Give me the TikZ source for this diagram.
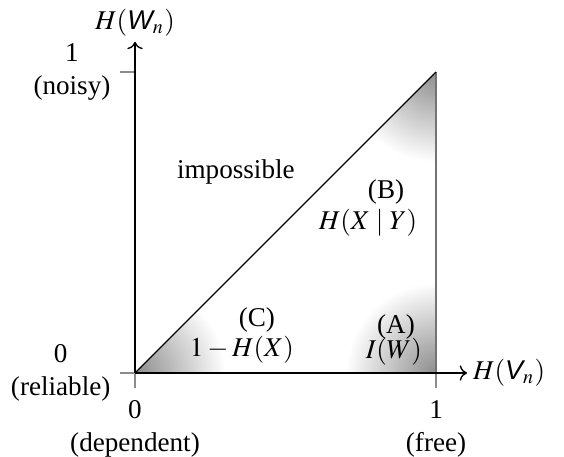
\documentclass[tikz,border=0pt]{standalone}
\usepackage{amsmath}
\usepackage{mathptmx}
\usepackage{fontspec}
\setmainfont{Liberation Serif}
\setsansfont{Liberation Sans}
\usetikzlibrary{arrows.meta,positioning}
\newcommand{\sfv}[1]{\text{\sffamily\itshape #1}}

\begin{document}
\begin{tikzpicture}[x=3.9cm,y=3.9cm, every node/.style={font=\normalsize,align=center},
    axisline/.style={black, line width=0.5pt},
    tickline/.style={black!45, line width=0.5pt},
    corner/.style={inner color=black!45, outer color=white}]
  \useasboundingbox (-0.4485,-0.279) rectangle (1.425,1.239);

  \coordinate (O) at (0,0);
  \coordinate (Q) at (1,0);
  \coordinate (P) at (1,1);
  \coordinate (xend) at (1.103,0);
  \coordinate (yend) at (0,1.10);

  % shaded corners of the feasible triangle
  \begin{scope}
    \clip (O) -- (P) -- (Q) -- cycle;
    \shade[corner] (O) circle (0.3);
    \shade[corner] (P) circle (0.3);
    \shade[corner] (Q) circle (0.3);
  \end{scope}

  % ticks
  \foreach \t in {0,1} {
    \draw[tickline] (\t,0) -- (\t,-0.05);
    \draw[tickline] (0,\t) -- (-0.05,\t);
  }

  \draw[black!55, line width=1pt] (Q) -- (P);
  \draw[black, line width=0.4pt] (O) -- (P);
  \draw[axisline, ->] (O) -- (xend);
  \draw[axisline, ->] (O) -- (yend);

  \node[anchor=west, inner sep=2pt] (xlab) at (xend) {$H(\sfv{V}_n)$};
  \node[anchor=south, inner sep=2pt] (ylab) at (yend) {$H(\sfv{W}_n)$};

  \node[anchor=north] (x0) at (0,-0.06) {0\\(dependent)};
  \node[anchor=north] (x1) at (1,-0.06) {1\\(free)};
  \node[anchor=east] (y0) at (-0.05,0) {0\\(reliable)};
  \node[anchor=east] (y1) at (-0.05,1) {1\\(noisy)};

  \node (imp) at (0.335,0.668) {impossible};
  \node (B) at (0.834,0.601) {(B)};
  \node (Bf) at (0.774,0.498) {$H(X \mid Y)$};
  \node (C) at (0.405,0.176) {(C)};
  \node (Cf) at (0.355,0.076) {$1 - H(X)$};
  \node (A) at (0.867,0.153) {(A)};
  \node (Af) at (0.860,0.070) {$I(W)$};
\end{tikzpicture}
\end{document}
